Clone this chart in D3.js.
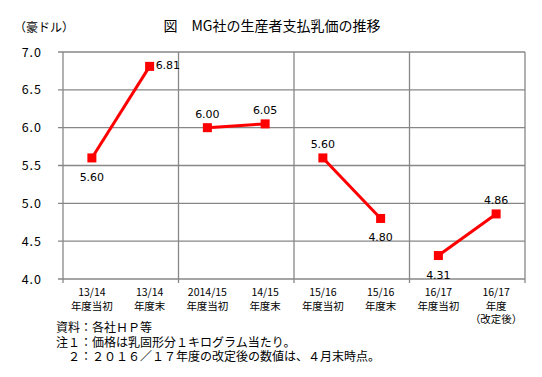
<!DOCTYPE html>
<html>
<head>
<meta charset="utf-8">
<script src="https://cdn.jsdelivr.net/npm/d3@7"></script>
<style>
  body { margin: 0; background: #fff; }
  svg text { font-family: "Noto Sans CJK JP", "Noto Sans", sans-serif; fill: #000; }
</style>
</head>
<body>
<div id="chart"></div>
<script>
// categories (multi-line x labels)
const categories = [
    ["13/14", "年度当初"],
    ["13/14", "年度末"],
    ["2014/15", "年度当初"],
    ["14/15", "年度末"],
    ["15/16", "年度当初"],
    ["15/16", "年度末"],
    ["16/17", "年度当初"],
    ["16/17", "年度", "（改定後）"]
];
const values = [5.60, 6.81, 6.00, 6.05, 5.60, 4.80, 4.31, 4.86];
// each line joins one season's pair of points
const pairs = [[0, 1], [2, 3], [4, 5], [6, 7]];
const labelPos = ["below", "right", "above", "above", "above", "below", "below", "above"];
const yTicks = [4.0, 4.5, 5.0, 5.5, 6.0, 6.5, 7.0];
const notes = [
    "資料：各社ＨＰ等",
    "注１：価格は乳固形分１キログラム当たり。",
    "　２：２０１６／１７年度の改定後の数値は、４月末時点。"
];

const W = 542, H = 377;
const margin = {top: 52, right: 17, bottom: 98, left: 63};
const width = W - margin.left - margin.right,
      height = H - margin.top - margin.bottom;

const svg = d3.select("#chart").append("svg")
    .attr("width", W).attr("height", H);

// title + unit
svg.append("text")
    .attr("x", 272).attr("y", 31)
    .attr("text-anchor", "middle")
    .style("font-size", "14px")
    .text("図　MG社の生産者支払乳価の推移");

svg.append("text")
    .attr("x", 14).attr("y", 32)
    .style("font-size", "12px")
    .text("（豪ドル）");

const g = svg.append("g")
    .attr("transform", `translate(${margin.left},${margin.top})`);

const x = d3.scaleBand()
    .domain(d3.range(categories.length))
    .range([0, width]);

const y = d3.scaleLinear()
    .domain([4, 7])
    .range([height, 0]);

// horizontal gridlines
g.append("g")
    .selectAll("line")
    .data(yTicks)
    .join("line")
    .attr("x1", -5).attr("x2", width)
    .attr("y1", d => y(d)).attr("y2", d => y(d))
    .attr("stroke", "#878787")
    .attr("stroke-width", 1.3);

// vertical separators every two categories
const seps = d3.range(0, categories.length + 1, 2);
g.append("g")
    .selectAll("line")
    .data(seps)
    .join("line")
    .attr("x1", d => d < categories.length ? x(d) : width)
    .attr("x2", d => d < categories.length ? x(d) : width)
    .attr("y1", 0).attr("y2", height + 4)
    .attr("stroke", "#878787")
    .attr("stroke-width", 1.3);

// y tick labels
g.append("g")
    .selectAll("text")
    .data(yTicks)
    .join("text")
    .attr("x", -21)
    .attr("y", d => y(d))
    .attr("dy", "0.36em")
    .attr("text-anchor", "end")
    .style("font-size", "12.5px")
    .style("letter-spacing", "1px")
    .text(d => d.toFixed(1));

// x labels
const xl = g.append("g")
    .selectAll("text")
    .data(categories)
    .join("text")
    .attr("text-anchor", "middle")
    .style("font-size", "10.5px");
xl.each(function(d, i) {
    const t = d3.select(this);
    d.forEach((line, j) => {
        t.append("tspan")
            .attr("x", x(i) + x.bandwidth() / 2)
            .attr("y", height + 17 + j * 13.5)
            .text(line);
    });
});

// lines
const line = d3.line()
    .x(i => x(i) + x.bandwidth() / 2)
    .y(i => y(values[i]));

g.append("g")
    .selectAll("path")
    .data(pairs)
    .join("path")
    .attr("d", line)
    .attr("fill", "none")
    .attr("stroke", "#ff0000")
    .attr("stroke-width", 3);

// markers
g.append("g")
    .selectAll("rect")
    .data(values)
    .join("rect")
    .attr("x", (d, i) => x(i) + x.bandwidth() / 2 - 4.5)
    .attr("y", d => y(d) - 4.5)
    .attr("width", 9).attr("height", 9)
    .attr("fill", "#ff0000");

// data labels
g.append("g")
    .selectAll("text")
    .data(values)
    .join("text")
    .attr("x", (d, i) => x(i) + x.bandwidth() / 2 + (labelPos[i] === "right" ? 6 : 0))
    .attr("y", (d, i) => y(d) + (labelPos[i] === "below" ? 19 : labelPos[i] === "above" ? -14 : -1))
    .attr("dy", "0.36em")
    .attr("text-anchor", (d, i) => labelPos[i] === "right" ? "start" : "middle")
    .style("font-family", "'DejaVu Sans', sans-serif")
    .style("font-size", "11px")
    .text(d => d.toFixed(2));

// notes
svg.append("g")
    .selectAll("text")
    .data(notes)
    .join("text")
    .attr("x", 56)
    .attr("y", (d, i) => 332 + i * 14.5)
    .style("font-size", "12px")
    .text(d => d);
</script>
</body>
</html>
